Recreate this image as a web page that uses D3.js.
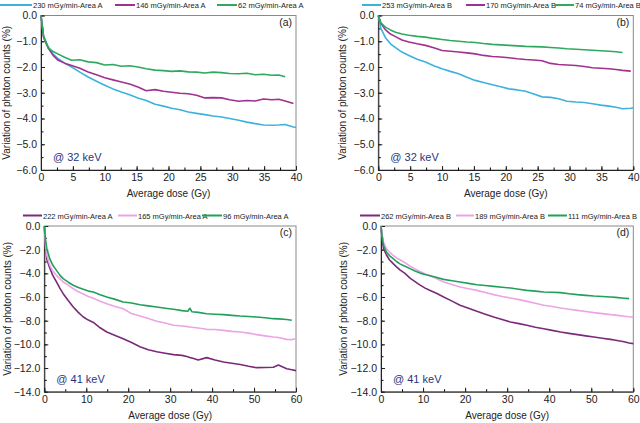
<!DOCTYPE html>
<html>
<head>
<meta charset="utf-8">
<script src="https://cdn.jsdelivr.net/npm/d3@7"></script>
<style>
  body { margin: 0; background: #fff; }
  text { font-family: "Liberation Sans", Arial, sans-serif; }
</style>
</head>
<body>
<div id="wrapper"></div>
<script>
// 1. Data

const doseA = [0, 0.4, 1.1, 1.9, 2.7, 3.7, 4.8, 6.1, 7.4, 8.7, 10, 11.3, 12.6, 13.9, 15.2, 16.5, 17.9, 19.2, 20.5, 21.8, 23.1, 24.4, 25.7, 27, 28.3, 29.6, 31, 32.3, 33.6, 34.9, 36.2, 37.3, 38.3, 39.6, 40];
const labelsA = ["230 mGy/min-Area A", "146 mGy/min-Area A", "62 mGy/min-Area A"];
const a230 = [0, -0.8, -1.2, -1.5, -1.68, -1.85, -2.0, -2.2, -2.39, -2.55, -2.71, -2.85, -2.97, -3.08, -3.2, -3.3, -3.45, -3.52, -3.6, -3.66, -3.75, -3.8, -3.85, -3.9, -3.94, -4.0, -4.07, -4.14, -4.2, -4.25, -4.26, -4.25, -4.23, -4.33, -4.35];
const a146 = [0, -0.85, -1.25, -1.55, -1.74, -1.85, -1.94, -2.05, -2.19, -2.3, -2.42, -2.5, -2.58, -2.66, -2.78, -2.92, -2.88, -2.94, -2.98, -3.02, -3.04, -3.1, -3.2, -3.19, -3.2, -3.27, -3.33, -3.3, -3.32, -3.24, -3.27, -3.25, -3.32, -3.42, null];
const a62 = [0, -0.8, -1.25, -1.4, -1.5, -1.62, -1.74, -1.72, -1.8, -1.83, -1.92, -1.9, -1.97, -1.95, -2.0, -2.07, -2.12, -2.14, -2.17, -2.15, -2.19, -2.2, -2.23, -2.2, -2.22, -2.25, -2.26, -2.24, -2.3, -2.28, -2.32, -2.31, -2.38, null, null];

const doseB = doseA;
const labelsB = ["253 mGy/min-Area B", "170 mGy/min-Area B", "74 mGy/min-Area B"];
const b253 = [0, -0.5, -0.85, -1.1, -1.25, -1.42, -1.55, -1.7, -1.81, -1.95, -2.07, -2.17, -2.26, -2.4, -2.52, -2.6, -2.69, -2.77, -2.85, -2.89, -2.94, -3.05, -3.16, -3.18, -3.23, -3.33, -3.36, -3.38, -3.43, -3.48, -3.52, -3.56, -3.62, -3.6, -3.58];
const b170 = [0, -0.3, -0.55, -0.72, -0.82, -0.95, -1.03, -1.1, -1.16, -1.25, -1.36, -1.39, -1.42, -1.45, -1.49, -1.55, -1.59, -1.61, -1.64, -1.68, -1.71, -1.73, -1.76, -1.86, -1.9, -1.92, -1.94, -1.98, -2.03, -2.05, -2.07, -2.1, -2.13, -2.16, null];
const b74 = [0, -0.28, -0.45, -0.56, -0.65, -0.72, -0.77, -0.81, -0.84, -0.89, -0.93, -0.97, -1.0, -1.03, -1.05, -1.09, -1.12, -1.14, -1.16, -1.18, -1.2, -1.21, -1.22, -1.24, -1.26, -1.29, -1.31, -1.33, -1.35, -1.37, -1.39, -1.41, -1.44, null, null];

const doseC = [0, 0.3, 0.6, 1.3, 2, 2.9, 3.7, 4.5, 5.7, 6.9, 8.1, 9.3, 10.5, 11.7, 13.3, 14.9, 16.9, 18.8, 20.8, 22.8, 24.8, 26.8, 28.8, 30.8, 32.8, 34.2, 34.7, 35.2, 36.7, 38.7, 40.7, 42.7, 44.7, 46.7, 48.7, 50.6, 52.6, 54.6, 55.8, 57.8, 59, 60];
const labelsC = ["222 mGy/min-Area A", "165 mGy/min-Area A", "96 mGy/min-Area A"];
const c222 = [0, -1.8, -2.8, -3.55, -4.15, -4.73, -5.25, -5.72, -6.3, -6.85, -7.3, -7.69, -7.95, -8.15, -8.6, -8.96, -9.25, -9.52, -9.85, -10.2, -10.45, -10.62, -10.75, -10.87, -10.93, -11.05, -11.12, -11.15, -11.32, -11.12, -11.32, -11.49, -11.6, -11.7, -11.85, -11.97, -11.95, -11.93, -11.75, -12.06, -12.15, -12.22];
const c165 = [0, -1.6, -2.5, -3.3, -3.8, -4.17, -4.45, -4.73, -5.0, -5.3, -5.55, -5.75, -5.95, -6.1, -6.35, -6.56, -6.8, -6.99, -7.4, -7.6, -7.82, -8.05, -8.2, -8.39, -8.45, -8.5, -8.54, -8.56, -8.62, -8.73, -8.75, -8.82, -8.9, -8.96, -9.05, -9.18, -9.28, -9.38, -9.42, -9.58, -9.6, -9.52];
const c96 = [0, -1.2, -1.92, -2.76, -3.3, -3.75, -4.15, -4.45, -4.75, -5.01, -5.2, -5.35, -5.5, -5.58, -5.8, -6.0, -6.2, -6.42, -6.5, -6.65, -6.75, -6.85, -6.95, -7.04, -7.15, -7.2, -6.95, -7.25, -7.3, -7.41, -7.45, -7.49, -7.55, -7.61, -7.65, -7.69, -7.75, -7.83, -7.85, -7.9, -7.97, null];

const doseD = [0, 0.3, 0.6, 1.3, 2, 2.9, 3.7, 4.5, 5.7, 6.9, 8.1, 9.3, 10.5, 11.7, 13.3, 14.9, 16.9, 18.8, 20.8, 22.8, 24.8, 26.8, 28.8, 30.8, 32.8, 34.7, 36.7, 38.7, 40.7, 42.7, 44.7, 46.7, 48.7, 50.6, 52.6, 54.6, 55.8, 57.8, 59, 60];
const labelsD = ["262 mGy/min-Area B", "189 mGy/min-Area B", "111 mGy/min-Area B"];
const d262 = [0, -1.2, -1.92, -2.45, -2.85, -3.18, -3.45, -3.7, -4.0, -4.4, -4.7, -5.0, -5.25, -5.45, -5.7, -6.0, -6.35, -6.7, -6.95, -7.21, -7.45, -7.69, -7.9, -8.11, -8.25, -8.39, -8.55, -8.68, -8.82, -8.96, -9.07, -9.18, -9.28, -9.38, -9.48, -9.58, -9.65, -9.78, -9.88, -9.94];
const d189 = [0, -0.8, -1.35, -1.92, -2.2, -2.48, -2.7, -2.85, -3.1, -3.4, -3.62, -3.85, -4.05, -4.2, -4.45, -4.73, -4.95, -5.15, -5.3, -5.44, -5.62, -5.8, -5.95, -6.08, -6.22, -6.37, -6.52, -6.7, -6.8, -6.93, -7.03, -7.13, -7.22, -7.32, -7.4, -7.49, -7.53, -7.62, -7.67, -7.7];
const d111 = [0, -1.0, -1.63, -2.2, -2.5, -2.76, -3.0, -3.2, -3.4, -3.6, -3.8, -3.98, -4.1, -4.2, -4.35, -4.51, -4.62, -4.73, -4.85, -4.96, -5.03, -5.1, -5.17, -5.24, -5.34, -5.44, -5.5, -5.58, -5.6, -5.63, -5.72, -5.8, -5.86, -5.92, -5.96, -6.0, -6.03, -6.1, -6.14, null];

// 2. Panels

const blue = "#3eb1dc", magenta = "#a0318f", green1 = "#2ea95f";
const plum = "#7b2a79", pink = "#eba4e8", green2 = "#21a05b";

const panels = [
  {
    tag: "(a)", energy: "@ 32 keV", dose: doseA,
    series: [a230, a146, a62], labels: labelsA, colors: [blue, magenta, green1],
    box: [41, 15.5, 296, 170], xMax: 40, yMin: -6, yStep: 1, xStep: 5,
    legend: [[0, 32], [115, 135], [217, 237]], legendY: 5, titleX: 6,
  },
  {
    tag: "(b)", energy: "@ 32 keV", dose: doseB,
    series: [b253, b170, b74], labels: labelsB, colors: [blue, magenta, green1],
    box: [378.3, 15.5, 633.3, 170], xMax: 40, yMin: -6, yStep: 1, xStep: 5,
    legend: [[362, 381], [466, 485], [555, 574]], legendY: 5, titleX: 342,
  },
  {
    tag: "(c)", energy: "@ 41 keV", dose: doseC,
    series: [c222, c165, c96], labels: labelsC, colors: [plum, pink, green2],
    box: [44.3, 226, 296, 391.7], xMax: 60, yMin: -14, yStep: 2, xStep: 10,
    legend: [[23, 42], [118, 137], [202, 222]], legendY: 215.5, titleX: 7,
  },
  {
    tag: "(d)", energy: "@ 41 keV", dose: doseD,
    series: [d262, d189, d111], labels: labelsD, colors: [plum, pink, green2],
    box: [381, 226, 633.3, 391.7], xMax: 60, yMin: -14, yStep: 2, xStep: 10,
    legend: [[360, 380], [456, 474], [548, 567]], legendY: 215.5, titleX: 343,
  },
];

// 3. Draw canvas

const svg = d3.select("#wrapper")
  .append("svg")
    .attr("width", 640)
    .attr("height", 423);

const fmt = d3.format(".1f");

panels.forEach(p => {
  const [x0, y0, x1, y1] = p.box;
  const x = d3.scaleLinear().domain([0, p.xMax]).range([x0, x1]);
  const y = d3.scaleLinear().domain([p.yMin, 0]).range([y1, y0]);

  // frame
  svg.append("rect")
    .attr("x", x0).attr("y", y0)
    .attr("width", x1 - x0).attr("height", y1 - y0)
    .attr("fill", "none")
    .attr("stroke", "#8a8a8a")
    .attr("stroke-width", 1);

  // minor ticks
  svg.append("g")
    .attr("transform", `translate(0,${y1})`)
    .call(d3.axisBottom(x).tickValues(d3.range(0, p.xMax + 0.01, p.xStep / 2))
      .tickSize(-2.5).tickSizeOuter(0).tickFormat(""))
    .call(g => g.select(".domain").remove());
  svg.append("g")
    .attr("transform", `translate(${x0},0)`)
    .call(d3.axisLeft(y).tickValues(d3.range(p.yMin, 0.01, p.yStep / 2))
      .tickSize(-2.5).tickSizeOuter(0).tickFormat(""))
    .call(g => g.select(".domain").remove());

  // major axes
  const xAxis = svg.append("g")
    .attr("transform", `translate(0,${y1})`)
    .call(d3.axisBottom(x).tickValues(d3.range(0, p.xMax + 0.01, p.xStep))
      .tickSize(-4).tickSizeOuter(0).tickPadding(4));
  const yAxis = svg.append("g")
    .attr("transform", `translate(${x0},0)`)
    .call(d3.axisLeft(y).tickValues(d3.range(p.yMin, 0.01, p.yStep))
      .tickSize(-4).tickSizeOuter(0).tickPadding(4).tickFormat(fmt));
  [xAxis, yAxis].forEach(a => {
    a.selectAll("text").attr("font-size", 10.5).attr("fill", "#222")
      .style("font-family", "'Liberation Sans', Arial, sans-serif");
    a.selectAll("line, .domain").attr("stroke", "#222");
  });

  // curves
  p.series.forEach((s, i) => {
    const pts = p.dose.map((d, j) => [d, s[j]]);
    svg.append("path")
      .datum(pts)
      .attr("fill", "none")
      .attr("stroke", p.colors[i])
      .attr("stroke-width", 1.6)
      .attr("stroke-linejoin", "round")
      .attr("d", d3.line()
        .defined(d => d[1] != null)
        .x(d => x(d[0]))
        .y(d => y(d[1])));
  });

  // legend
  p.legend.forEach(([lx0, lx1], i) => {
    svg.append("line")
      .attr("x1", lx0).attr("x2", lx1)
      .attr("y1", p.legendY).attr("y2", p.legendY)
      .attr("stroke", p.colors[i])
      .attr("stroke-width", 2);
    svg.append("text")
      .attr("x", lx1 + 1)
      .attr("y", p.legendY + 3)
      .attr("font-size", 7.5)
      .attr("fill", "#222")
      .text(p.labels[i]);
  });

  // labels
  svg.append("text")
    .attr("x", x1 - 4).attr("y", y0 + 10)
    .attr("text-anchor", "end")
    .attr("font-size", 10.5)
    .attr("fill", "#222")
    .text(p.tag);
  svg.append("text")
    .attr("x", x0 + 12).attr("y", y1 - 9)
    .attr("font-size", 11)
    .attr("fill", "#2a3578")
    .text(p.energy);
  svg.append("text")
    .attr("x", (x0 + x1) / 2).attr("y", y1 + 27)
    .attr("text-anchor", "middle")
    .attr("font-size", 10)
    .attr("fill", "#222")
    .text("Average dose (Gy)");
  svg.append("text")
    .attr("transform", `translate(${p.titleX},${(y0 + y1) / 2}) rotate(-90)`)
    .attr("text-anchor", "middle")
    .attr("dominant-baseline", "central")
    .attr("font-size", 10)
    .attr("fill", "#222")
    .text("Variation of photon counts (%)");
});
</script>
</body>
</html>
